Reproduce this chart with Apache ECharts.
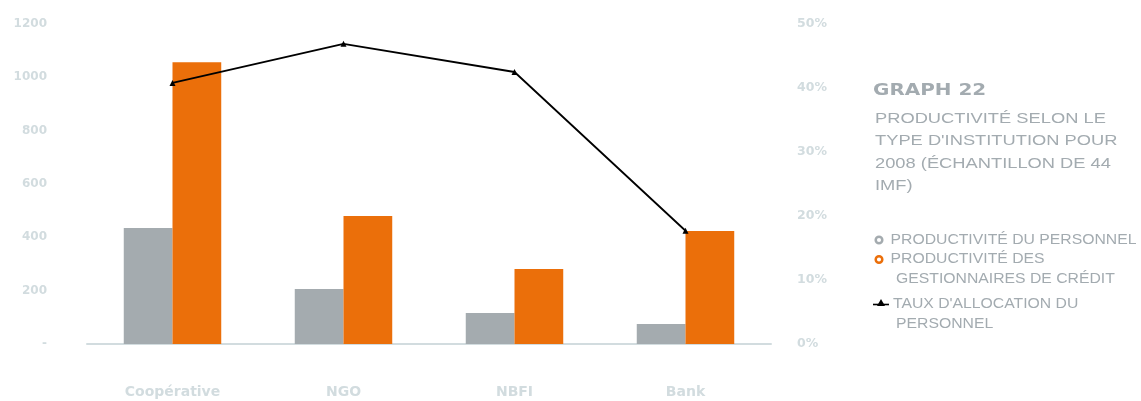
<!DOCTYPE html>
<html><head><meta charset="utf-8">
<script src="https://cdn.jsdelivr.net/npm/echarts@6/dist/echarts.min.js"></script>
<style>html,body{margin:0;padding:0;background:#fff}#c{width:1141px;height:401px}</style>
</head><body><div id="c"></div>
<script>
const categories = ['Coopérative', 'NGO', 'NBFI', 'Bank'];
const staffProductivity = [435, 206, 116, 75];
const loanOfficerProductivity = [1057, 480, 281, 424];
const staffAllocationRate = [40.8, 46.9, 42.5, 17.7];
const leftTicks = [0, 200, 400, 600, 800, 1000, 1200];
const rightTicks = [0, 10, 20, 30, 40, 50];
const titleText = 'GRAPH 22';
const subtitleLines = ['PRODUCTIVITÉ SELON LE', "TYPE D'INSTITUTION POUR", '2008 (ÉCHANTILLON DE 44', 'IMF)'];
const legendItems = [
  {name: 'PRODUCTIVITÉ DU PERSONNEL', lines: ['PRODUCTIVITÉ DU PERSONNEL']},
  {name: 'PRODUCTIVITÉ DES GESTIONNAIRES DE CRÉDIT', lines: ['PRODUCTIVITÉ DES', 'GESTIONNAIRES DE CRÉDIT']},
  {name: "TAUX D'ALLOCATION DU PERSONNEL", lines: ["TAUX D'ALLOCATION DU", 'PERSONNEL']}
];

const GRAY = '#a4abaf', ORANGE = '#eb6f0a', AXIS = '#d2dcdf', TXT = '#a3abb0';
const SANS = '"Liberation Sans", Arial, sans-serif';
const BOLD = '"DejaVu Sans", sans-serif';
const chart = echarts.init(document.getElementById('c'));

const graphics = [];
graphics.push({type: 'text', x: 873, y: 91.5, scaleX: 1.33,
  style: {x: 0, y: 0, text: titleText, font: 'bold 15px ' + BOLD, fill: TXT, verticalAlign: 'middle'}});
subtitleLines.forEach((l, i) => graphics.push({type: 'text', x: 875, y: 119 + i * 22.2, scaleX: 1.22,
  style: {x: 0, y: 0, text: l, font: '15px ' + SANS, fill: TXT, verticalAlign: 'middle'}}));
// legend
const legCenters = [240, 259.5, 304];
const legendColors = [GRAY, ORANGE, '#000'];
legendItems.forEach((it, i) => {
  const yc = legCenters[i];
  if (i < 2) {
    graphics.push({type: 'circle', shape: {cx: 879, cy: yc, r: 3.3}, style: {fill: '#fff', stroke: legendColors[i], lineWidth: 2.5}});
  } else {
    graphics.push({type: 'line', shape: {x1: 873, y1: yc + 0.5, x2: 889, y2: yc + 0.5}, style: {stroke: '#000', lineWidth: 1.6}});
    graphics.push({type: 'polygon', shape: {points: [[881, yc - 5], [877, yc + 2], [885, yc + 2]]}, style: {fill: '#000'}});
  }
  const x0 = i < 2 ? 890.5 : 893;
  it.lines.forEach((l, j) => graphics.push({type: 'text', x: j === 0 ? x0 : 896, y: yc + j * 20, scaleX: 1.125,
    style: {x: 0, y: 0, text: l, font: '14px ' + SANS, fill: TXT, verticalAlign: 'middle'}}));
});

chart.setOption({
  animation: false,
  grid: {left: 87, right: 370, top: 24, bottom: 57},
  xAxis: {
    type: 'category', data: categories,
    axisLine: {lineStyle: {color: AXIS, width: 2}}, axisTick: {show: false},
    axisLabel: {color: AXIS, fontWeight: 'bold', fontSize: 14, fontFamily: BOLD, margin: 41}
  },
  yAxis: [{
    type: 'value', min: 0, max: 1200, interval: 200, position: 'left',
    splitLine: {show: false}, axisLine: {show: false}, axisTick: {show: false},
    axisLabel: {color: AXIS, fontWeight: 'bold', fontSize: 12, fontFamily: BOLD, margin: 40,
      formatter: v => leftTicks.includes(v) ? (v === 0 ? '-' : String(v)) : ''}
  }, {
    type: 'value', min: 0, max: 50, interval: 10, position: 'right',
    splitLine: {show: false}, axisLine: {show: false}, axisTick: {show: false},
    axisLabel: {color: AXIS, fontWeight: 'bold', fontSize: 12.5, fontFamily: BOLD, margin: 26,
      formatter: v => rightTicks.includes(v) ? v + '%' : ''}
  }],
  series: [
    {name: legendItems[0].name, type: 'bar', data: staffProductivity, itemStyle: {color: GRAY}, barGap: '0%', barCategoryGap: '43%'},
    {name: legendItems[1].name, type: 'bar', data: loanOfficerProductivity, itemStyle: {color: ORANGE}, barGap: '0%', barCategoryGap: '43%'},
    {name: legendItems[2].name, type: 'line', yAxisIndex: 1, data: staffAllocationRate, symbol: 'triangle', symbolSize: 6,
      lineStyle: {color: '#000', width: 1.8}, itemStyle: {color: '#000'}, z: 5}
  ],
  graphic: graphics
});
</script></body></html>
